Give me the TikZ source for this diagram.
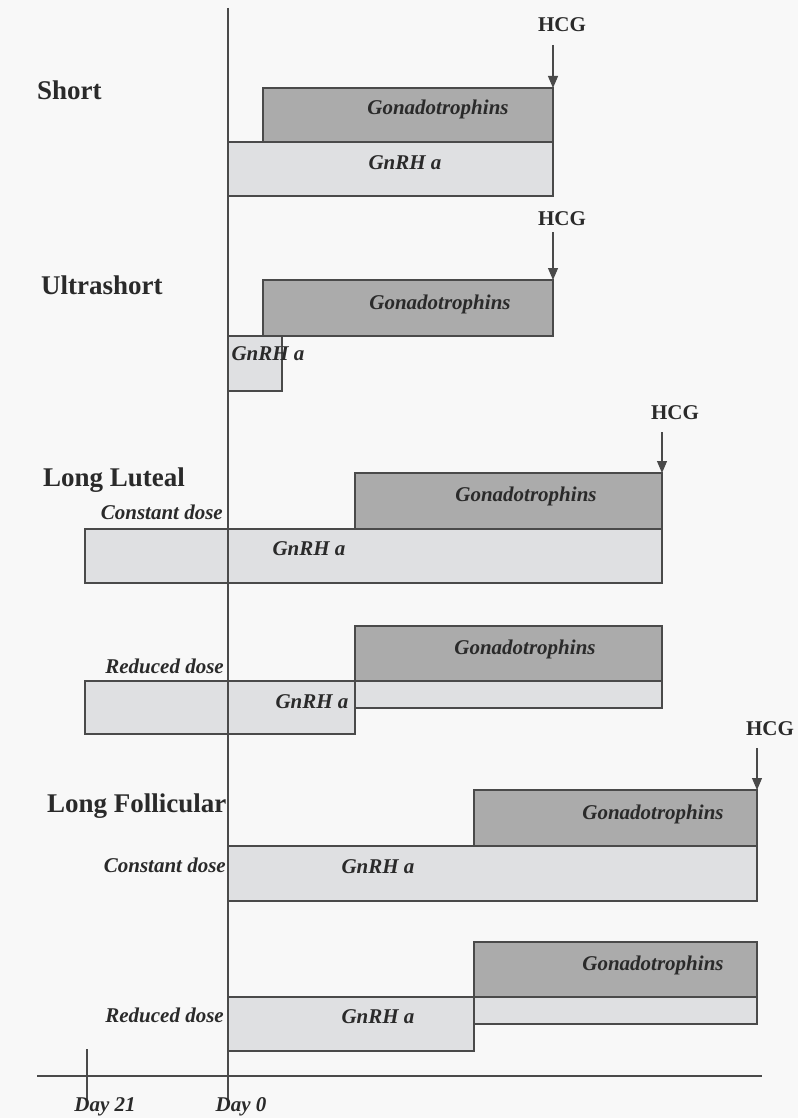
\documentclass[tikz,border=0pt]{standalone}
\usepackage{fontspec}
\setmainfont{Liberation Serif}
\usetikzlibrary{arrows.meta}
\definecolor{bgc}{HTML}{F8F8F8}
\definecolor{gonfill}{HTML}{ABABAB}
\definecolor{gnrhfill}{HTML}{DFE0E2}
\definecolor{linec}{HTML}{4A4A4A}
\definecolor{txt}{HTML}{2A2A2A}
\begin{document}
\begin{tikzpicture}[x=1pt,y=-1pt,
  gon/.style={draw=linec, fill=gonfill, line width=1.1pt, anchor=north west, inner sep=0, outer sep=0},
  gnrh/.style={draw=linec, fill=gnrhfill, line width=1.1pt, anchor=north west, inner sep=0, outer sep=0},
  lbl/.style={font=\fontsize{27}{30}\selectfont\bfseries, text=txt, anchor=base west, inner sep=0},
  itl/.style={font=\fontsize{21}{24}\selectfont\bfseries\itshape, text=txt, anchor=base, inner sep=0},
  dose/.style={font=\fontsize{21}{24}\selectfont\bfseries\itshape, text=txt, anchor=base east, inner sep=0},
  hcg/.style={font=\fontsize{21}{24}\selectfont\bfseries, text=txt, anchor=base, inner sep=0},
  arr/.style={-{Triangle[length=12pt,width=10pt]}, draw=linec, line width=1.1pt},
  axis/.style={draw=linec, line width=1.1pt}]
\useasboundingbox (0,0) rectangle (798,1118);
\clip (0,0) rectangle (798,1118);
\fill[bgc] (0,0) rectangle (798,1118);

% ---------- Short ----------
\node[lbl] (tshort) at (37,100) {Short};
\node[gnrh, minimum width=325pt, minimum height=54pt] (sgn) at (228,142) {};
\node[gon, minimum width=290pt, minimum height=54pt] (sgo) at (263,88) {};
\node[itl] (sgot) at (438,115) {Gonadotrophins};
\node[itl] (sgnt) at (405,170) {GnRH a};
\node[hcg] (shcg) at (562,32) {HCG};
\coordinate (sarr) at (553,88);
\draw[arr] (553,45) -- (sarr);

% ---------- Ultrashort ----------
\node[lbl] (tultra) at (41,294) {Ultrashort};
\node[gon, minimum width=290pt, minimum height=56pt] (ugo) at (263,280) {};
\node[gnrh, minimum width=54pt, minimum height=55pt] (ugn) at (228,336) {};
\node[itl] (ugot) at (440,309) {Gonadotrophins};
\node[itl] (ugnt) at (268,360) {GnRH a};
\node[hcg] (uhcg) at (562,225) {HCG};
\coordinate (uarr) at (553,280);
\draw[arr] (553,232) -- (uarr);

% ---------- Long Luteal ----------
\node[lbl] (tlong) at (43,486) {Long Luteal};
\node[dose] (tlc) at (223,519) {Constant dose};
\node[gnrh, minimum width=577pt, minimum height=54pt] (lcgn) at (85,529) {};
\node[gon, minimum width=307pt, minimum height=56pt] (lcgo) at (355,473) {};
\node[itl] (lcgot) at (526,501) {Gonadotrophins};
\node[itl] (lcgnt) at (309,555) {GnRH a};
\node[hcg] (lhcg) at (675,419) {HCG};
\coordinate (larr) at (662,473);
\draw[arr] (662,432) -- (larr);

\node[dose] (tlr) at (224,673) {Reduced dose};
\node[gnrh, minimum width=270pt, minimum height=53pt] (lrgn1) at (85,681) {};
\node[gnrh, minimum width=307pt, minimum height=27pt] (lrgn2) at (355,681) {};
\node[gon, minimum width=307pt, minimum height=55pt] (lrgo) at (355,626) {};
\node[itl] (lrgot) at (525,654) {Gonadotrophins};
\node[itl] (lrgnt) at (312,708) {GnRH a};

% ---------- Long Follicular ----------
\node[lbl] (tfol) at (47,812) {Long Follicular};
\node[dose] (tfc) at (226,872) {Constant dose};
\node[gnrh, minimum width=529pt, minimum height=55pt] (fcgn) at (228,846) {};
\node[gon, minimum width=283pt, minimum height=56pt] (fcgo) at (474,790) {};
\node[itl] (fcgot) at (653,819) {Gonadotrophins};
\node[itl] (fcgnt) at (378,873) {GnRH a};
\node[hcg] (fhcg) at (770,735) {HCG};
\coordinate (farr) at (757,790);
\draw[arr] (757,748) -- (farr);

\node[dose] (tfr) at (224,1022) {Reduced dose};
\node[gnrh, minimum width=246pt, minimum height=54pt] (frgn1) at (228,997) {};
\node[gnrh, minimum width=283pt, minimum height=27pt] (frgn2) at (474,997) {};
\node[gon, minimum width=283pt, minimum height=55pt] (frgo) at (474,942) {};
\node[itl] (frgot) at (653,970) {Gonadotrophins};
\node[itl] (frgnt) at (378,1023) {GnRH a};

% ---------- axes ----------
\coordinate (d0top) at (228,8);
\coordinate (d0bot) at (228,1100);
\draw[axis] (d0top) -- (d0bot);
\coordinate (axl) at (37,1076);
\coordinate (axr) at (762,1076);
\draw[axis, line width=1.7pt] (axl) -- (axr);
\coordinate (d21top) at (87,1049);
\coordinate (d21bot) at (87,1100);
\draw[axis] (d21top) -- (d21bot);
\node[itl] (tday21) at (105,1111) {Day 21};
\node[itl] (tday0) at (241,1111) {Day 0};
\end{tikzpicture}
\end{document}
